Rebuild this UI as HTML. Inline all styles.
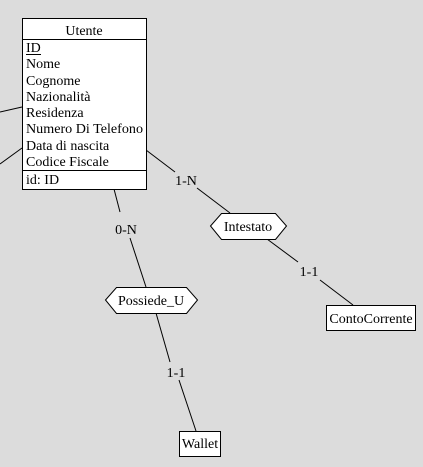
<!DOCTYPE html>
<html><head><style>
html,body{margin:0;padding:0;background:#dcdcdc;}
svg{display:block;}
text{font-family:"Liberation Serif","Times New Roman",serif;font-size:14px;fill:#000;}
</style></head><body>
<svg width="423" height="467" viewBox="0 0 423 467">
<rect width="423" height="467" fill="#dcdcdc"/>
<g stroke="#000" stroke-width="1" fill="none">
<line x1="0" y1="112" x2="22" y2="107"/>
<line x1="0" y1="164" x2="22" y2="148"/>
<line x1="146" y1="150" x2="175" y2="172"/>
<line x1="197" y1="188" x2="230" y2="213"/>
<line x1="267" y1="239" x2="298" y2="262"/>
<line x1="320" y1="280" x2="353" y2="305"/>
<line x1="114" y1="189" x2="120" y2="212"/>
<line x1="130" y1="238" x2="146" y2="287"/>
<line x1="156" y1="313" x2="170" y2="362"/>
<line x1="179" y1="380" x2="196" y2="431"/>
</g>
<rect x="22.5" y="18.5" width="124" height="171" fill="#fff" stroke="#000"/>
<line x1="22" y1="39.5" x2="146" y2="39.5" stroke="#000"/>
<line x1="22" y1="170.5" x2="146" y2="170.5" stroke="#000"/>
<text x="84" y="35" text-anchor="middle">Utente</text>
<text x="26" y="52">ID</text>
<line x1="26" y1="54.5" x2="41" y2="54.5" stroke="#000"/>
<text x="26" y="68">Nome</text>
<text x="26" y="85">Cognome</text>
<text x="26" y="101">Nazionalità</text>
<text x="26" y="117">Residenza</text>
<text x="26" y="133" textLength="117" lengthAdjust="spacingAndGlyphs">Numero Di Telefono</text>
<text x="26" y="150">Data di nascita</text>
<text x="26" y="166">Codice Fiscale</text>
<text x="26" y="184">id: ID</text>
<text x="186" y="185" text-anchor="middle">1-N</text>
<polygon points="210.5,226 221.5,213.5 275.5,213.5 286.5,226 275.5,239.5 221.5,239.5" fill="#fff" stroke="#000"/>
<text x="248" y="231" text-anchor="middle">Intestato</text>
<text x="309" y="276" text-anchor="middle">1-1</text>
<rect x="326.5" y="305.5" width="89" height="25" fill="#fff" stroke="#000"/>
<text x="371" y="323" text-anchor="middle">ContoCorrente</text>
<text x="126" y="234" text-anchor="middle">0-N</text>
<polygon points="105.5,300 116.5,287.5 186.5,287.5 197.5,300 186.5,313.5 116.5,313.5" fill="#fff" stroke="#000"/>
<text x="151" y="305" text-anchor="middle">Possiede_U</text>
<text x="176" y="377" text-anchor="middle">1-1</text>
<rect x="179.5" y="431.5" width="41" height="25" fill="#fff" stroke="#000"/>
<text x="200" y="448" text-anchor="middle">Wallet</text>
</svg>
</body></html>
